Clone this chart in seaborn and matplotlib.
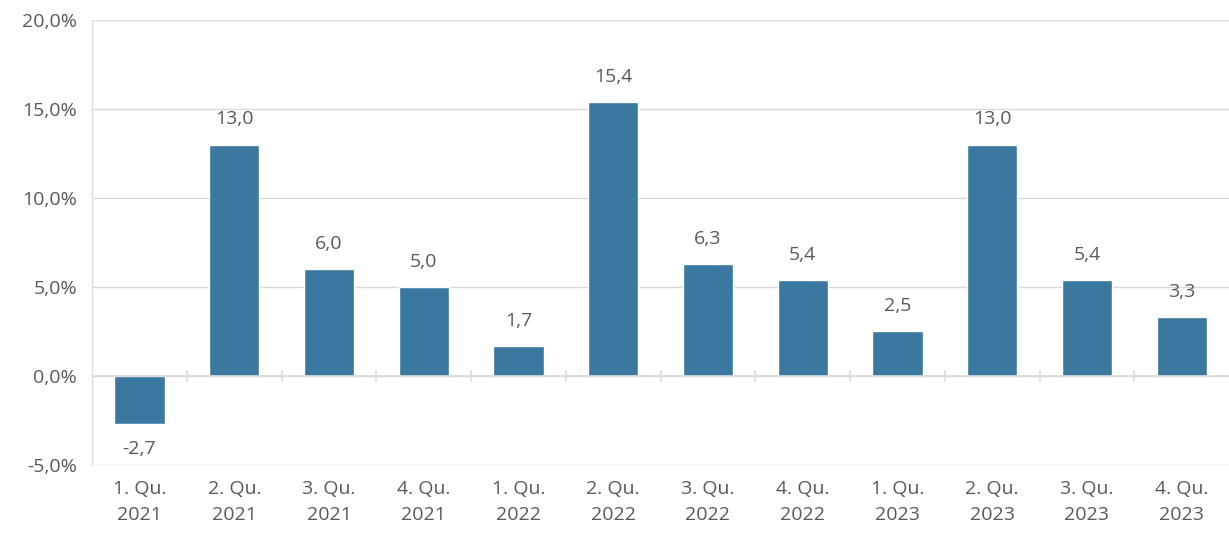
import matplotlib
matplotlib.use("Agg")
import matplotlib.pyplot as plt
import seaborn as sns
import pandas as pd
import numpy as np

quarters = ["1. Qu.\n2021", "2. Qu.\n2021", "3. Qu.\n2021", "4. Qu.\n2021",
            "1. Qu.\n2022", "2. Qu.\n2022", "3. Qu.\n2022", "4. Qu.\n2022",
            "1. Qu.\n2023", "2. Qu.\n2023", "3. Qu.\n2023", "4. Qu.\n2023"]
values = [-2.7, 13.0, 6.0, 5.0, 1.7, 15.4, 6.3, 5.4, 2.5, 13.0, 5.4, 3.3]

sns.set_style("white")
plt.rcParams['font.family'] = ['Open Sans', 'DejaVu Sans']
grey = "#595959"
line = "#d9d9d9"

df = pd.DataFrame({"q": quarters, "v": values})
fig = plt.figure(figsize=(12.29, 5.37), dpi=100)
ax = fig.add_axes([0.075, 0.134, 0.925, 0.829])
sns.barplot(data=df, x="q", y="v", color="#3a78a0", saturation=1, width=0.53, ax=ax, zorder=3)

ax.set_ylim(-5, 20)
ax.set_xlim(-0.5, len(values) - 0.5)
ax.set_yticks(np.arange(-5, 21, 5))
ax.set_yticklabels([f"{t:.1f}%".replace(".", ",") for t in np.arange(-5, 21, 5)])
ax.yaxis.grid(True, color=line, lw=1, zorder=0)
ax.axhline(0, color=line, lw=1.2, zorder=4)
for s in ["top", "right", "bottom"]:
    ax.spines[s].set_visible(False)
ax.spines["left"].set_color(line)
ax.tick_params(axis="y", length=7, color=line, labelsize=14, labelcolor=grey, pad=4)
ax.tick_params(axis="x", length=0, labelsize=14, labelcolor=grey, pad=11)
for lab in ax.get_xticklabels():
    lab.set_linespacing(1.55)
ax.set_xlabel("")
ax.set_ylabel("")

# Kategorie-Trennstriche auf der Nulllinie
for b in np.arange(0.5, len(values) - 0.5, 1):
    ax.plot([b, b], [-0.3, 0.3], color=line, lw=1.2, zorder=4)

for i, v in enumerate(values):
    off = 0.9 if v >= 0 else -0.9
    ax.text(i, v + off, f"{v:.1f}".replace(".", ","), ha="center",
            va="bottom" if v >= 0 else "top", fontsize=14, color=grey)

fig.savefig("out.png", dpi=100)
